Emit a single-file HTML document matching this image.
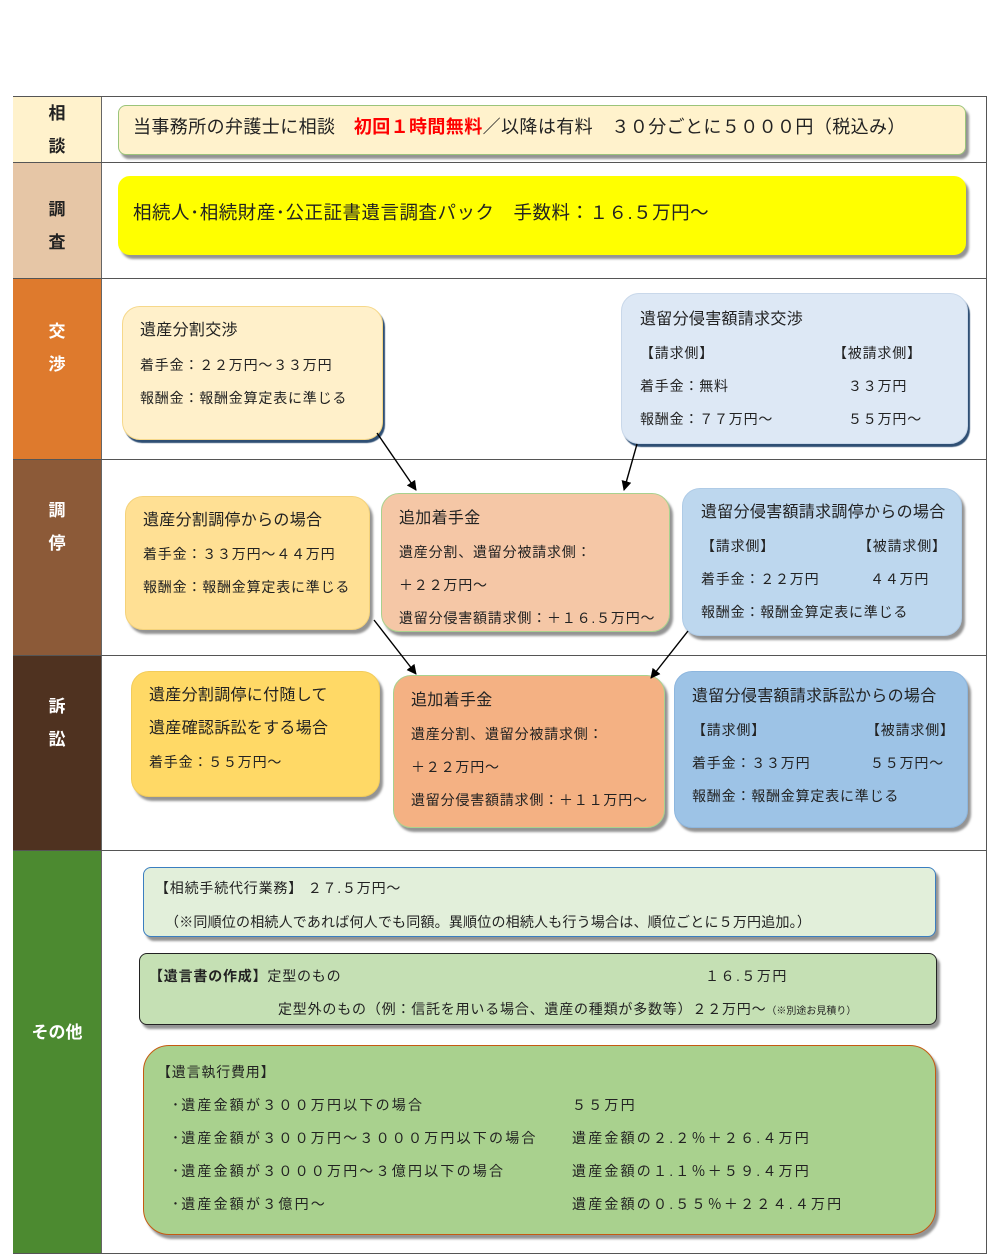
<!DOCTYPE html>
<html><head><meta charset="utf-8">
<style>
*{margin:0;padding:0;box-sizing:border-box}
body{width:1000px;height:1255px;background:#fff;position:relative;overflow:hidden;font-family:"Liberation Sans","Noto Sans CJK JP",sans-serif;color:#222}
.a{position:absolute}
.lab{position:absolute;left:13px;width:89px;border-right:1px solid #666;font-weight:bold;font-size:17px;text-align:center;line-height:33px;display:flex;flex-direction:column;justify-content:center;align-items:center}
.row{position:absolute;left:13px;width:974px;border-top:1px solid #555}
.b{position:absolute;border-radius:18px;box-shadow:3px 4px 2px rgba(60,60,60,.55)}
.t{position:absolute;white-space:nowrap;font-size:14px;line-height:18px;letter-spacing:0.8px}
.h{font-size:16px;letter-spacing:0.3px}
.w{letter-spacing:2.2px}
</style></head><body>
<div class="a" style="left:13px;top:96px;width:974px;height:1158px;border:1px solid #555"></div>
<div class="row" style="top:162px"></div>
<div class="row" style="top:278px"></div>
<div class="row" style="top:459px"></div>
<div class="row" style="top:655px"></div>
<div class="row" style="top:850px"></div>

<div class="lab" style="top:97px;height:65px;background:#FFF2CC;color:#222">相<br>談</div>
<div class="lab" style="top:163px;height:115px;background:#E6C6A6;color:#222;padding-top:10px">調<br>査</div>
<div class="lab" style="top:279px;height:180px;background:#DE7A2D;color:#fff;justify-content:flex-start;padding-top:36px">交<br>渉</div>
<div class="lab" style="top:460px;height:195px;background:#8C5A38;color:#fff;justify-content:flex-start;padding-top:34px">調<br>停</div>
<div class="lab" style="top:656px;height:194px;background:#4F3220;color:#fff;justify-content:flex-start;padding-top:34px">訴<br>訟</div>
<div class="lab" style="top:851px;height:402px;background:#4C8A30;color:#fff;justify-content:flex-start;padding-top:165px">その他</div>

<!-- 相談 -->
<div class="b" style="left:118px;top:105px;width:848px;height:50px;background:#FFF2CC;border:1.5px solid #9BC47A;border-radius:8px"></div>
<div class="t" style="left:133px;top:116px;font-size:18px;line-height:22px;letter-spacing:0.4px">当事務所の弁護士に相談　<b style="color:#F00">初回１時間無料</b>／以降は有料　３０分ごとに５０００円（税込み）</div>
<!-- 調査 -->
<div class="b" style="left:118px;top:176px;width:848px;height:79px;background:#FFFF00;border-radius:12px"></div>
<div class="t" style="left:133px;top:202px;font-size:18.5px;line-height:22px;letter-spacing:0.5px">相続人･相続財産･公正証書遺言調査パック　手数料：１６.５万円～</div>

<!-- 交渉 -->
<div class="b" style="left:122px;top:306px;width:261px;height:134px;background:#FFF0CA;border:1.5px solid #F6D88A;box-shadow:2px 3px 1px #2F4F74"></div>
<div class="t h" style="left:140px;top:322px">遺産分割交渉</div>
<div class="t" style="left:140px;top:356px">着手金：２２万円～３３万円</div>
<div class="t" style="left:140px;top:389px">報酬金：報酬金算定表に準じる</div>

<div class="b" style="left:621px;top:293px;width:347px;height:151px;background:#DDE8F5;border:1px solid #C9D8EA;box-shadow:2px 3px 1px #2F4F74"></div>
<div class="t h" style="left:640px;top:311px">遺留分侵害額請求交渉</div>
<div class="t" style="left:640px;top:344px">【請求側】</div><div class="t" style="left:833px;top:344px">【被請求側】</div>
<div class="t" style="left:640px;top:377px">着手金：無料</div><div class="t" style="left:848px;top:377px">３３万円</div>
<div class="t" style="left:640px;top:410px">報酬金：７７万円～</div><div class="t" style="left:848px;top:410px">５５万円～</div>

<!-- 調停 -->
<div class="b" style="left:125px;top:496px;width:245px;height:134px;background:#FFE094;border:1px solid #F4D27A"></div>
<div class="t h" style="left:143px;top:512px">遺産分割調停からの場合</div>
<div class="t" style="left:143px;top:545px">着手金：３３万円～４４万円</div>
<div class="t" style="left:143px;top:578px">報酬金：報酬金算定表に準じる</div>

<div class="b" style="left:381px;top:493px;width:289px;height:139px;background:#F5C7A6;border:1.5px solid #A9D18E"></div>
<div class="t h" style="left:399px;top:510px">追加着手金</div>
<div class="t" style="left:399px;top:543px">遺産分割、遺留分被請求側：</div>
<div class="t" style="left:399px;top:576px">＋２２万円～</div>
<div class="t" style="left:399px;top:609px">遺留分侵害額請求側：＋１６.５万円～</div>

<div class="b" style="left:682px;top:488px;width:280px;height:148px;background:#BDD7EE;border:1px solid #AFCBE6"></div>
<div class="t h" style="left:701px;top:504px">遺留分侵害額請求調停からの場合</div>
<div class="t" style="left:701px;top:537px">【請求側】</div><div class="t" style="left:858px;top:537px">【被請求側】</div>
<div class="t" style="left:701px;top:570px">着手金：２２万円</div><div class="t" style="left:870px;top:570px">４４万円</div>
<div class="t" style="left:701px;top:603px">報酬金：報酬金算定表に準じる</div>

<!-- 訴訟 -->
<div class="b" style="left:131px;top:671px;width:249px;height:126px;background:#FFD966;border:1px solid #F2CC5A"></div>
<div class="t h" style="left:149px;top:687px">遺産分割調停に付随して</div>
<div class="t h" style="left:149px;top:720px">遺産確認訴訟をする場合</div>
<div class="t" style="left:149px;top:753px">着手金：５５万円～</div>

<div class="b" style="left:393px;top:675px;width:272px;height:153px;background:#F4B183;border:1.5px solid #A9D18E"></div>
<div class="t h" style="left:411px;top:692px">追加着手金</div>
<div class="t" style="left:411px;top:725px">遺産分割、遺留分被請求側：</div>
<div class="t" style="left:411px;top:758px">＋２２万円～</div>
<div class="t" style="left:411px;top:791px">遺留分侵害額請求側：＋１１万円～</div>

<div class="b" style="left:674px;top:671px;width:294px;height:157px;background:#9DC3E6;border:1px solid #8DB6DE"></div>
<div class="t h" style="left:692px;top:688px">遺留分侵害額請求訴訟からの場合</div>
<div class="t" style="left:692px;top:721px">【請求側】</div><div class="t" style="left:866px;top:721px">【被請求側】</div>
<div class="t" style="left:692px;top:754px">着手金：３３万円</div><div class="t" style="left:870px;top:754px">５５万円～</div>
<div class="t" style="left:692px;top:787px">報酬金：報酬金算定表に準じる</div>

<!-- その他 -->
<div class="b" style="left:143px;top:867px;width:793px;height:70px;background:#E2EFDA;border:1.5px solid #3A7EC0;border-radius:8px"></div>
<div class="t" style="left:155px;top:879px">【相続手続代行業務】 ２７.５万円～</div>
<div class="t" style="left:165px;top:913px;letter-spacing:0.2px">（※同順位の相続人であれば何人でも同額。異順位の相続人も行う場合は、順位ごとに５万円追加。）</div>

<div class="b" style="left:139px;top:953px;width:798px;height:72px;background:#C5E0B4;border:1.5px solid #222;border-radius:8px"></div>
<div class="t" style="left:149px;top:967px"><b>【遺言書の作成】</b>定型のもの</div>
<div class="t" style="left:705px;top:967px;letter-spacing:1.5px">１６.５万円</div>
<div class="t" style="left:278px;top:1000px">定型外のもの（例：信託を用いる場合、遺産の種類が多数等）２２万円～<span style="font-size:10px;letter-spacing:0">（※別途お見積り）</span></div>

<div class="b" style="left:143px;top:1045px;width:793px;height:190px;background:#A9D18E;border:1.5px solid #C55A11;border-radius:26px"></div>
<div class="t" style="left:157px;top:1063px">【遺言執行費用】</div>
<div class="t w" style="left:172px;top:1096px">･遺産金額が３００万円以下の場合</div><div class="t w" style="left:572px;top:1096px">５５万円</div>
<div class="t w" style="left:172px;top:1129px">･遺産金額が３００万円～３０００万円以下の場合</div><div class="t w" style="left:572px;top:1129px">遺産金額の２.２％＋２６.４万円</div>
<div class="t w" style="left:172px;top:1162px">･遺産金額が３０００万円～３億円以下の場合</div><div class="t w" style="left:572px;top:1162px">遺産金額の１.１％＋５９.４万円</div>
<div class="t w" style="left:172px;top:1195px">･遺産金額が３億円～</div><div class="t w" style="left:572px;top:1195px">遺産金額の０.５５％＋２２４.４万円</div>

<svg class="a" style="left:0;top:0" width="1000" height="1255">
<defs><marker id="m" markerWidth="10" markerHeight="10" refX="9" refY="5" orient="auto" markerUnits="userSpaceOnUse"><path d="M0,0 L10,5 L0,10 z" fill="#000"/></marker></defs>
<g stroke="#000" stroke-width="1.4" marker-end="url(#m)">
<line x1="377" y1="433" x2="416" y2="490"/>
<line x1="637" y1="444" x2="624" y2="490"/>
<line x1="374" y1="620" x2="416" y2="674"/>
<line x1="688" y1="631" x2="651" y2="678"/>
</g></svg>
</body></html>
